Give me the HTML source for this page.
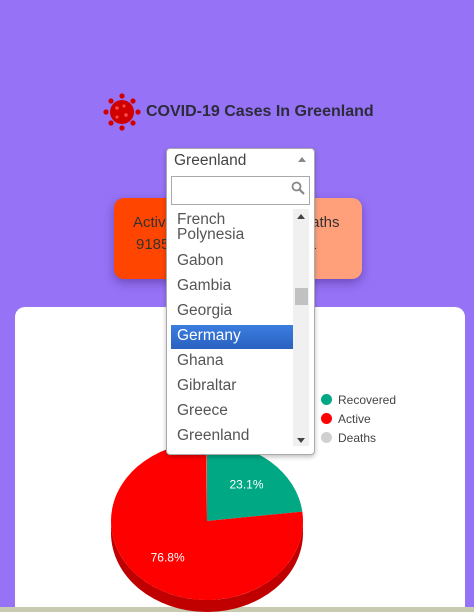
<!DOCTYPE html>
<html style="overflow:hidden;width:474px;height:612px"><head><meta charset="utf-8"><style>
body{margin:0;width:474px;height:612px;overflow:hidden;background:#9672f6;font-family:"Liberation Sans",sans-serif;position:relative}
.abs{position:absolute}
.card{position:absolute;top:198px;height:81px;border-radius:10px;box-shadow:0 4px 10px rgba(60,30,120,.45);color:#333;font-size:15px}
.item{position:absolute;left:10px;font-size:15.5px;color:#555}
</style></head><body>
<div class="abs" style="left:102px;top:94px;height:36px;display:flex;align-items:center">
<svg width="40" height="38" viewBox="0 0 40 38">
<g fill="#d10000"><circle cx="20" cy="19" r="12"/>
<circle cx="20" cy="3" r="2.6"/><circle cx="20" cy="35" r="2.6"/><circle cx="4" cy="19" r="2.6"/><circle cx="36" cy="19" r="2.6"/>
<circle cx="9" cy="8" r="2.6"/><circle cx="31" cy="8" r="2.6"/><circle cx="9" cy="30" r="2.6"/><circle cx="31" cy="30" r="2.6"/></g>
<g fill="#ff5050"><circle cx="15" cy="15" r="1.8"/><circle cx="24" cy="22" r="1.8"/><circle cx="22" cy="13" r="1.5"/><circle cx="15" cy="24" r="1.5"/></g></svg>
<span style="font-weight:bold;font-size:16px;color:#2b2b3a;margin-left:4px">COVID-19 Cases In Greenland</span></div>

<div class="card" style="left:114px;width:120px;background:#ff4500"><div class="abs" style="left:19px;top:16px">Active</div><div class="abs" style="left:22px;top:38px">9185</div></div>
<div class="card" style="left:242px;width:120px;background:#ffa07a"><div class="abs" style="left:50px;top:16px">Deaths</div><div class="abs" style="left:58px;top:38px">21</div></div>

<div class="abs" style="left:15px;top:307px;width:450px;height:300px;background:#fff;border-radius:10px 10px 0 0"></div>
<div class="abs" style="left:0;top:607px;width:474px;height:5px;background:#c8cbb0"></div>

<svg class="abs" style="left:0;top:0" width="474" height="612" id="pie"></svg>

<div class="abs" style="left:321px;top:390px;font-size:12px;color:#444">
<div style="height:19px;display:flex;align-items:center"><span style="width:11px;height:11px;border-radius:50%;background:#00a884;margin-right:6px"></span>Recovered</div>
<div style="height:19px;display:flex;align-items:center"><span style="width:11px;height:11px;border-radius:50%;background:#ff0000;margin-right:6px"></span>Active</div>
<div style="height:19px;display:flex;align-items:center"><span style="width:11px;height:11px;border-radius:50%;background:#d0d0d0;margin-right:6px"></span>Deaths</div>
</div>

<div class="abs" style="left:166px;top:148px;width:147px;height:305px;background:#fff;border:1px solid #aaa;border-radius:4px;box-shadow:0 2px 5px rgba(0,0,0,.25)">
<div class="abs" style="left:7px;top:3px;font-size:15.5px;color:#444">Greenland</div>
<div class="abs" style="left:131px;top:8px;border-left:4px solid transparent;border-right:4px solid transparent;border-bottom:5px solid #888"></div>
<div class="abs" style="left:4px;top:27px;width:137px;height:27px;border:1px solid #aaa"></div>
<svg class="abs" style="left:124px;top:32px" width="14" height="14"><circle cx="5.5" cy="5.5" r="4" stroke="#888" stroke-width="1.8" fill="none"/><line x1="8.5" y1="8.5" x2="13" y2="13" stroke="#888" stroke-width="2.2"/></svg>
<div class="item" style="top:63px;line-height:15px">French<br>Polynesia</div>
<div class="item" style="top:103px">Gabon</div>
<div class="item" style="top:128px">Gambia</div>
<div class="item" style="top:153px">Georgia</div>
<div class="abs" style="left:4px;top:176px;width:122px;height:24px;background:linear-gradient(#3a7de0,#2a62c0)"></div>
<div class="item" style="top:178px;color:#fff">Germany</div>
<div class="item" style="top:203px">Ghana</div>
<div class="item" style="top:228px">Gibraltar</div>
<div class="item" style="top:253px">Greece</div>
<div class="item" style="top:278px">Greenland</div>
<div class="abs" style="left:126px;top:60px;width:16px;height:237px;background:#f0f0f0">
<div class="abs" style="left:4px;top:5px;border-left:4px solid transparent;border-right:4px solid transparent;border-bottom:5px solid #444"></div>
<div class="abs" style="left:2px;top:79px;width:13px;height:17px;background:#c1c1c1"></div>
<div class="abs" style="left:4px;top:229px;border-left:4px solid transparent;border-right:4px solid transparent;border-top:5px solid #444"></div>
</div>
</div>

<script>
const labels=["Recovered","Active","Deaths"];
const values=[23.1,76.8,0.1];
const colors=["#00a884","#ff0000","#d0d0d0"];
const dark=["#007a60","#c00000","#999"];
const svg=document.getElementById('pie');const NS="http://www.w3.org/2000/svg";
const cx=207,cy=521,rx=96,ry=79,depth=12;
const total=values.reduce((a,b)=>a+b,0);
function pt(a,dy){return [cx+rx*Math.cos(a),cy+ry*Math.sin(a)+(dy||0)];}
let a=-Math.PI/2;
values.forEach((v,i)=>{const s=a,e=a+v/total*2*Math.PI;a=e;
 const s2=Math.max(s,0),e2=Math.min(e,Math.PI);if(e2<=s2)return;
 const p1=pt(s2),p2=pt(e2),p3=pt(e2,depth),p4=pt(s2,depth);
 const p=document.createElementNS(NS,'path');
 p.setAttribute('d',`M${p1}A${rx},${ry} 0 0 1 ${p2}L${p3}A${rx},${ry} 0 0 0 ${p4}Z`);
 p.setAttribute('fill',dark[i]);
 
 
 svg.appendChild(p);});
a=-Math.PI/2;
values.forEach((v,i)=>{const s=a,e=a+v/total*2*Math.PI;a=e;
 const p1=pt(s),p2=pt(e),large=(e-s)>Math.PI?1:0;
 const p=document.createElementNS(NS,'path');
 p.setAttribute('d',`M${cx},${cy}L${p1}A${rx},${ry} 0 ${large} 1 ${p2}Z`);
 p.setAttribute('fill',colors[i]);
 
 
 svg.appendChild(p);
 if(v>5){const m=(s+e)/2;const t=document.createElementNS(NS,'text');
  t.setAttribute('x',cx+rx*0.62*Math.cos(m));t.setAttribute('y',cy+ry*0.62*Math.sin(m)+4);
  t.setAttribute('text-anchor','middle');t.setAttribute('fill','#fff');t.setAttribute('font-size','12');
  t.setAttribute('font-family','Liberation Sans, sans-serif');
  t.textContent=v.toFixed(1)+'%';
  
  
  svg.appendChild(t);}
});
</script>
</body></html>
